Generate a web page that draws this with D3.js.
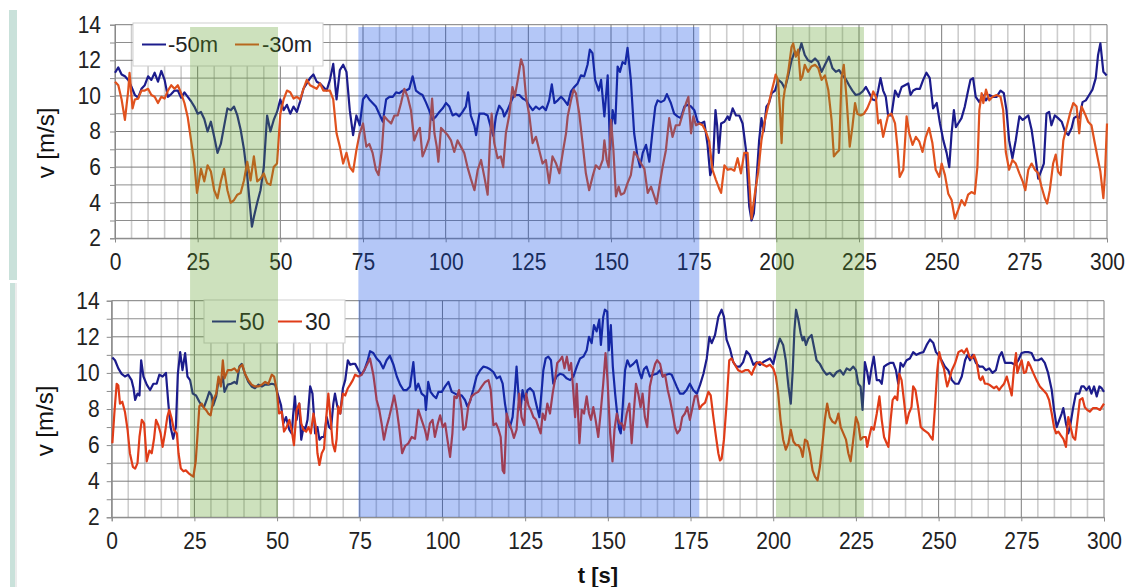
<!DOCTYPE html>
<html>
<head>
<meta charset="utf-8">
<script src="https://cdn.jsdelivr.net/npm/d3@7"></script>
<style>
  body { margin: 0; background: #fff; }
  svg { display: block; font-family: "Liberation Sans", Arial, sans-serif; }
</style>
</head>
<body>
<div id="chart"></div>
<script>
// data: [t (s), v (m/s)]
const top50 = [[0,11.3],[1,11.6],[2,11.2],[3,11.1],[4,10.9],[5,10.5],[6,10.05],[7,9.9],[8,10.4],[9,10.6],[10,11.1],[11,10.9],[12,11.3],[13,10.8],[14,11.4],[15,10.9],[16,9.95],[17,10.1],[18,10.3],[19,10.3],[20,9.9],[21,10.2],[22,9.95],[23,9.7],[24,9.4],[25,9.0],[26,9.1],[27,8.7],[28,8.0],[29,8.55],[30,7.7],[31,6.8],[32,7.3],[33,8.3],[34,9.3],[35,9.2],[36,9.4],[37,8.9],[38,8.1],[39,7.0],[40,5.5],[41.4,2.65],[42,3.2],[43,4.0],[44,4.7],[45,6.0],[46,8.9],[47,8.0],[48,8.65],[49,9.1],[50,9.8],[51,9.2],[52,9.5],[53,9.0],[54,9.4],[55,9.1],[56,9.7],[57,10.4],[58,10.7],[59,11.0],[60,11.2],[61,10.8],[62,10.7],[63,10.5],[64,10.3],[65,10.9],[66,11.8],[67,9.8],[68,11.45],[69,11.75],[70,11.35],[71,9.2],[72,7.8],[73,8.9],[74,8.35],[75,9.8],[76,10.05],
  [76.9,9.8],[77.9,9.6],[78.9,9.4],[79.9,9.0],[81,8.55],[82,9.8],[83,9.95],[84,9.95],[85,10.2],[86,10.15],[87,10.3],[88,10.3],[89,10.4],[90,11.1],[91,10.3],[92,10.15],[93,10.05],[94,9.65],[95,9.2],[96,8.65],[97.1,8.85],[98.1,9.1],[99.1,9.3],[100.1,9.6],[101.1,9.4],[102.1,8.9],[103.1,9.0],[104.1,8.85],[105.1,9.1],[106.1,9.4],[106.8,10.2],[107.6,8.9],[108.7,8.3],[109.2,7.8],[110.2,9.0],[111.7,9.0],[112.7,8.9],[113.7,8.2],[114.4,7.75],[115.2,8.85],[116.2,9.45],[117.2,9.2],[117.7,8.85],[118.7,9.2],[119.7,9.65],[120.7,10.05],[122.3,10.05],[123.3,9.85],[124.3,9.75],[125.3,9.45],[126.3,9.2],[127.3,9.4],[128.3,9.25],[129.3,9.4],[130.3,9.2],[131.3,9.75],[132.1,10.65],[132.9,9.6],[133.9,9.75],[134.9,9.95],[135.9,9.75],[136.9,9.5],[137.9,10.25],[138.9,10.5],[139.9,10.7],[140.9,11.15],[141.9,11.1],[142.9,11.75],[143.6,12.6],[144.4,12.4],[145.2,10.9],[146.3,10.3],[147,10.9],[148,8.85],[149,11.15],[149.7,7.0],[150.5,9.2],[151.3,8.45],[152,11.65],[152.7,11.35],[153.5,11.9],[154.3,11.8],[155,12.7],[156,10.9],[157,7.9],[158,6.6],[158.8,6.0],[159.6,6.8],[160.6,7.25],[161.6,6.3],[162.6,8.1],[163.4,9.4],[164.1,9.75],[165.1,9.65],[166.1,9.75],[166.9,10.1],[168.1,9.6],[169.1,9.0],[170.1,8.85],[171.1,8.75],[172.2,9.4],[173.2,9.5],[174.2,9.4],[175.2,9.2],[176.2,8.55],[177.2,8.45],[178.2,8.55],[179.2,7.25],[180,5.55],[180.8,6.1],[181.6,9.2],[182.1,8.35],[182.6,6.8],[183.3,8.45],[184.3,8.55],[185.3,8.85],[185.8,8.65],[186.8,9.3],[187.8,8.9],[188.8,8.9],[189.8,8.45],[190.8,7.0],[191.8,3.8],
  [192.5,3.0],[193.2,3.4],[194,5.3],[194.8,7.5],[195.5,8.75],[196.2,8.0],[197,9.4],[197.8,9.6],[198.6,10.15],[199.6,10.3],[200.6,10.9],[201.6,10.75],[202.6,10.4],[203.6,11.15],[204.6,12.0],[205.6,12.5],[206.6,12.3],[207.6,12.95],[208.6,12.3],[209.6,12.0],[210.6,11.9],[211.7,12.1],[212.7,11.9],[213.7,11.35],[214.7,11.75],[215.9,12.2],[217,11.55],[218,11.35],[219,11.45],[220,11.15],[221,10.95],[222,10.6],[223,10.3],[224,10.05],[225.1,10.1],[226.1,10.25],[227.1,10.5],[228.1,10.15],[229.1,9.8],[230.1,9.75],[230.8,10.3],[231.5,11.0],[232.3,10.3],[233.1,9.95],[233.8,8.9],[234.8,8.9],[235.9,10.3],[236.9,9.95],[237.9,10.5],[238.9,10.6],[239.9,10.7],[240.6,10.05],[241.4,10.3],[242.4,10.4],[243.4,10.4],[244.4,10.9],[245.4,11.3],[246.4,11.0],[247.4,9.3],[248.5,9.6],[249.5,8.45],[250.5,7.5],[251.5,6.8],[252.3,6.0],[253,7.9],[253.7,9.2],[254.3,8.25],[255,8.45],[256,8.75],[257,9.4],[258,10.3],[258.7,10.9],[259.5,11.0],[260.3,9.95],[261.4,9.65],[262.4,10.05],[263.4,9.75],[264.4,10.05],[265.4,9.95],[266.6,9.95],[267.8,10.3],[268.8,10.15],[269.6,9.2],[270.4,7.5],[271.4,6.5],[272.4,7.5],[273.5,8.85],[274.5,8.65],[275.2,8.75],[276.2,8.9],[277.2,8.1],[278.2,6.8],[279.2,5.35],[280.2,5.85],[280.9,6.2],[281.7,9.0],[282.5,9.1],[283.2,8.35],[284.2,8.9],[285.2,8.75],[286.3,8.55],[287.3,8.0],[288.3,7.8],[289.3,8.2],[290,8.75],[290.8,8.85],[291.6,8.75],[292.6,9.65],[293.6,9.75],[294.6,10.05],[295.6,10.35],[296.6,11.0],[297.3,12.3],[298,12.95],[298.9,11.35],[299.9,11.15]];

const top30 = [[0,10.8],[1,10.6],[2,9.8],[3,8.65],[4,10.3],[4.4,11.3],[5.3,9.3],[6,9.8],[7,9.85],[8,10.3],[9,10.3],[10,10.4],[11,10.05],[12,9.95],[13,9.6],[14,9.95],[15,9.85],[16,10.3],[17,10.6],[18,10.4],[19,10.6],[20,10.15],[21,9.6],[22,8.8],[23,7.5],[24,6.2],[24.8,4.55],[26,5.9],[27,5.2],[28,6.1],[29,5.75],[30,4.7],[31,4.25],[32,5.2],[33,5.9],[34,4.7],[35,4.0],[36,4.15],[37,4.45],[38,4.55],[39,5.25],[40,6.3],[41,5.25],[42,6.6],[43,5.2],[44,5.35],[45,5.65],[46,5.1],[47,5.0],[48,6.0],[49,6.2],[50,9.0],[51,9.8],[52,10.3],[53,10.2],[54,9.85],[55,9.95],[56,9.8],[57,10.4],[58,10.9],[59,10.6],[60,10.5],[61,10.4],[62,10.7],[63,10.3],[64,10.3],[65,10.3],[66,9.8],[67,7.9],[68,7.15],[69,6.2],[70,6.8],[71,6.0],[72,5.75],[73,6.95],[74,7.9],[75,8.45],[76,7.15],
  [76.9,7.3],[77.9,6.8],[78.9,5.85],[79.7,5.55],[80.7,6.95],[81.4,8.85],[82.4,8.65],[83.5,8.45],[84.5,8.9],[85.5,8.9],[86.5,9.6],[87.5,10.4],[88.5,9.95],[89.5,9.2],[90.5,7.5],[91.5,8.0],[92.2,8.2],[93,6.6],[94,7.05],[95,7.6],[95.9,9.85],[96.6,7.9],[97.3,7.15],[97.8,6.3],[98.6,8.2],[99.6,8.0],[100.6,7.8],[101.6,7.5],[102.6,6.85],[103.6,7.5],[104.6,7.15],[105.6,6.8],[106.6,6.0],[107.6,5.35],[108.7,4.7],[109.7,5.85],[110.7,6.4],[111.7,5.45],[112.7,4.45],[113.4,7.5],[113.9,9.0],[114.7,7.35],[115.7,6.5],[116.7,6.6],[117.4,6.0],[118.2,7.9],[119.2,8.9],[120.2,10.5],[120.9,9.95],[121.8,10.9],[122.8,12.05],[123.5,11.65],[124.3,9.95],[125.3,8.9],[126.3,7.35],[127.3,7.7],[128.3,6.95],[129.3,6.2],[130.3,6.4],[131.3,5.1],[132.3,6.6],[133.4,6.2],[134.4,5.65],[135.4,6.8],[136.4,7.9],[136.9,8.85],[137.9,9.75],[138.7,10.35],[139.4,10.15],[140.4,9.0],[141.4,7.35],[142.4,5.65],[143.4,4.7],[144.4,5.45],[145.4,6.1],[146.5,5.9],[147.5,6.4],[148,7.5],[148.7,6.4],[149.3,6.0],[150,8.65],[150.7,7.05],[151.5,4.35],[152.3,4.9],[153,4.45],[154,4.55],[155,5.1],[156,5.55],[157,6.85],[158,6.6],[159.1,6.2],[160.1,5.9],[161.1,4.55],[162.1,4.9],[163.1,4.35],[163.8,3.95],[164.6,4.9],[165.6,6.0],[166.6,6.95],[167.6,8.75],[168.6,7.7],[169.6,8.35],[170.7,8.35],[171.7,9.0],[172.7,9.6],[173.4,9.95],[174.2,7.9],[174.9,8.85],[175.7,8.35],[176.7,8.45],[177.7,8.35],[178.7,8.0],[179.7,7.45],[180.7,5.85],[181.7,5.3],[182.7,4.8],[183.3,4.55],[184.3,6.1],[185.3,5.85],[186.3,5.9],[187.3,5.8],[188.3,6.5],[189.3,5.65],[190.3,6.8],[191.3,6.8],
  [192.5,3.1],[193.5,4.5],[194.5,5.7],[195.5,7.5],[196.5,8.6],[197.5,9.4],[198.5,10.2],[199.3,10.8],[199.8,11.2],[200.5,10.9],[201.1,9.2],[201.6,7.35],[202.1,9.75],[202.6,10.4],[203.6,11.35],[204.6,12.75],[205.1,12.95],[205.9,12.2],[206.6,12.6],[207.3,10.9],[207.9,11.1],[208.6,11.75],[209.6,11.35],[210.6,11.65],[211.7,11.75],[212.7,11.55],[213.7,10.9],[214.7,11.15],[215.7,10.35],[216.7,8.65],[217.4,6.6],[218.2,6.8],[219,6.95],[219.7,11.0],[220.4,11.75],[221.2,9.95],[222.2,7.15],[223,8.25],[223.8,9.6],[224.5,9.0],[225.5,8.9],[226.5,9.0],[227.5,9.3],[228.5,9.75],[229.3,10.25],[230.1,9.95],[230.8,8.45],[231.5,8.65],[232.3,7.7],[233.1,8.35],[233.8,8.9],[234.8,9.0],[235.9,8.45],[236.6,7.15],[237.3,5.45],[238.4,5.85],[239.4,8.85],[240.2,7.9],[241.2,7.25],[242.2,7.7],[243.2,7.45],[244.2,6.85],[245.2,7.7],[246.2,8.2],[247.2,7.35],[248.2,5.85],[249.3,5.45],[250,6.2],[251,5.55],[252,4.5],[253,4.15],[254,3.1],[255,3.6],[256,4.15],[257,3.85],[258,4.45],[259,4.6],[260,4.5],[260.8,6.0],[261.4,9.2],[262.1,10.15],[262.6,9.6],[263.4,10.35],[264.4,9.75],[265.4,9.95],[266.6,10.05],[267.8,9.95],[268.6,9.2],[269.4,6.85],[270.4,5.85],[271.4,6.4],[272.4,6.2],[273.5,5.65],[274.5,5.2],[275.3,4.7],[276.2,5.85],[277.2,6.2],[278.2,5.85],[279.2,5.65],[280.2,4.9],[281.2,4.25],[281.9,3.95],[282.7,4.7],[283.7,6.2],[284.5,6.7],[285.2,5.75],[286,5.55],[286.8,7.5],[287.8,8.25],[288.8,9.0],[289.8,9.6],[290.8,9.4],[291.6,7.9],[292.3,9.4],[293.3,9.0],[294.3,8.55],[295.3,8.35],[296.3,7.35],[297.3,6.4],[298,5.75],[298.9,4.25],[299.4,5.65],[300,8.45]];

const bot50 = [[0.2,10.85],[1,10.7],[2,10.25],[3,9.95],[4,9.8],[5,9.9],[6,9.6],[6.6,9.15],[7.1,8.5],[7.8,8.85],[8.4,8.75],[8.9,10.7],[9.6,9.8],[10.6,9.35],[11.6,9.05],[12.6,9.4],[13.6,9.4],[14.4,9.9],[15.4,9.8],[16.4,10.0],[17.1,8.35],[17.8,7.0],[18.6,6.35],[19.4,7.0],[20,9.95],[20.7,11.15],[21.4,10.15],[22.2,11.1],[22.9,9.8],[23.7,9.6],[24.5,8.85],[25.5,8.75],[26.5,8.4],[27.2,8.2],[27.9,8.1],[28.7,8.5],[29.5,8.95],[30.2,8.75],[30.7,8.2],[31.6,8.7],[32.3,9.6],[33,9.4],[33.6,9.8],[34.1,8.95],[35.1,9.35],[36.1,9.4],[37.1,9.5],[37.8,9.4],[38.6,10.35],[39.3,10.5],[40.3,9.95],[41.3,9.5],[42.3,9.25],[43.3,9.15],[44.4,9.35],[45.4,9.25],[46.4,9.35],[47.4,9.35],[48.4,9.4],[49.4,9.35],[50.4,8.7],[51.2,8.2],[51.9,7.2],[52.7,7.55],[53.7,6.85],[54.4,6.65],[54.9,7.75],[55.4,8.7],[55.9,7.4],[56.7,8.3],[57.3,6.3],[58,7.0],[58.5,6.85],[59.2,7.4],[60,9.25],[60.7,8.85],[61.5,6.65],[62.2,7.0],[62.8,6.3],[63.5,6.45],[64.2,6.45],[65,7.55],[65.7,7.0],[66.3,6.9],[67,8.3],[67.5,8.85],[68.2,8.15],[69.1,7.75],[69.9,9.15],[70.6,9.6],[71.4,10.7],[72.1,10.45],[72.9,10.5],[73.6,10.5],[74.6,10.15],[75.4,9.9],[76.4,10.15],[77.4,10.7],
  [78.1,11.2],[79.1,11.1],[80.1,10.8],[81.1,10.6],[82.1,10.25],[83.1,10.7],[84.1,10.95],[85.2,10.45],[86.2,9.8],[87.2,9.35],[88.2,9.05],[89.2,9.05],[90.2,9.25],[91.2,10.6],[91.9,9.05],[92.7,9.4],[93.7,8.85],[94.7,8.7],[95,7.95],[95.7,9.5],[96.4,8.95],[97.2,8.75],[98.1,8.6],[98.8,8.95],[99.8,8.95],[100.8,9.25],[101.8,9.5],[102.8,8.95],[103.8,8.85],[104.8,8.75],[105.8,8.75],[106.8,8.5],[107.5,8.15],[108.3,8.4],[109.3,9.05],[110.3,9.8],[111.4,10.15],[112.4,10.35],[113.4,10.3],[114.4,10.2],[115.4,10.05],[116.4,9.7],[117.4,9.8],[118.2,9.4],[118.9,8.3],[119.6,7.5],[120.4,7.0],[121.2,7.55],[121.9,9.05],[122.4,10.35],[123.1,8.5],[123.6,7.95],[124.2,9.05],[124.9,8.5],[125.7,9.05],[126.5,9.15],[127.5,8.95],[128.5,8.15],[129.3,7.55],[130,9.05],[130.5,10.15],[131.2,10.8],[132,10.9],[132.8,10.7],[133.5,9.4],[134.5,9.8],[135.5,9.95],[136.5,9.9],[137.5,9.7],[138.6,9.6],[139.6,9.8],[140.6,10.35],[141.6,10.8],[142.6,10.9],[143.6,11.25],[144.3,12.0],[145.1,11.65],[145.8,12.65],[146.6,12.3],[147.4,12.95],[147.9,11.55],[148.6,13.1],[149.1,13.5],[149.8,13.4],[150.3,11.25],[150.9,12.65],[151.5,10.35],[152.2,8.85],[152.7,7.95],[153.4,6.9],[153.9,6.65],[154.5,8.15],[155.2,10.15],[155.9,10.7],[156.7,10.35],[157.7,10.5],[158.7,10.7],[159.5,10.05],[160.2,9.7],[160.9,10.2],[161.7,10.35],[162.7,9.8],[163.7,9.9],[164.8,9.95],[165.8,10.15],[166.6,9.8],[167.6,9.9],[168.6,9.95],[169.3,9.9],[170,9.6],[170.8,9.25],[171.8,8.85],[172.8,8.85],[173.8,9.05],[174.8,9.4],[175.8,9.05],[176.9,8.85],[177.9,9.35],[178.9,9.95],[179.9,10.8],[180.7,12.0],[181.4,11.65],[182.4,12.1],[183.4,13.1],[184.4,13.5],[185.1,13.1],[185.9,11.85],[186.9,11.35],[187.9,10.6],[188.9,10.35],[189.9,10.35],[190.9,10.6],[191.9,11.2],[192.9,11.0],
  [194,10.45],[195,10.6],[196,10.45],[197,10.6],[198,10.7],[199,10.8],[200,10.5],[201,11.25],[202,11.9],[203,11.55],[203.8,10.7],[204.6,9.25],[205.3,8.3],[205.9,10.15],[206.4,12.35],[206.9,13.5],[207.6,12.95],[208.3,12.2],[208.9,11.8],[209.3,12.0],[209.9,11.55],[210.6,11.9],[211.6,12.1],[212.3,11.45],[213.1,10.7],[214.1,10.5],[215.1,10.15],[216.1,9.9],[217.1,10.0],[218.2,9.8],[219.2,10.05],[220.2,10.15],[221.2,9.9],[222.2,10.25],[223.2,10.15],[224.2,10.35],[225,10.15],[225.7,9.4],[226.4,9.25],[227,7.95],[227.7,10.6],[228.4,10.05],[229,9.4],[229.7,10.25],[230.4,10.9],[231.3,9.6],[232.1,9.6],[232.8,9.4],[233.5,10.35],[234.3,10.45],[235.3,10.55],[236.3,10.55],[237.1,10.15],[237.8,9.4],[238.5,10.55],[239.3,10.35],[240.3,10.7],[241.3,10.8],[242.3,11.15],[243.3,11.0],[244.4,11.1],[245.4,11.15],[246.4,11.55],[247.4,11.85],[248.4,11.65],[249.2,11.15],[249.9,11.0],[250.9,10.7],[251.9,10.35],[252.9,10.15],[254,9.6],[255,9.4],[256,9.4],[257,9.8],[258,10.7],[258.7,11.0],[259.5,10.7],[260.3,11.0],[261.3,10.55],[262.3,10.35],[263.3,10.35],[264.3,10.15],[265.3,10.25],[266.3,10.0],[267.3,10.15],[268.3,10.9],[269.1,11.15],[270.1,10.55],[271.1,10.55],[272.1,10.55],[273.1,10.45],[274.1,10.7],[275.1,11.1],[276.1,11.15],[277.1,11.15],[278.1,11.1],[279.1,10.7],[280.1,10.7],[281.1,10.8],[282.1,10.55],[283.1,10.0],[284.2,9.05],[284.9,7.95],[285.7,7.0],[286.5,7.4],[287.2,7.75],[287.7,8.05],[288.5,7.2],[289.2,6.65],[289.9,7.2],[290.7,8.1],[291.5,8.85],[292.5,8.85],[293.2,9.25],[293.9,9.25],[294.7,9.05],[295.5,9.25],[296.2,8.85],[297,9.25],[297.8,8.7],[298.6,9.25],[299.3,9.15],[300,8.95]];

const bot30 = [[0.2,6.1],[0.8,7.75],[1.5,9.4],[2,9.3],[2.5,8.3],[3.2,8.4],[4,7.85],[4.8,6.85],[5.5,5.55],[6.4,4.8],[7.1,4.7],[7.8,5.0],[8.4,6.45],[9.1,7.4],[9.8,7.2],[10.6,5.1],[11.4,5.7],[12.1,5.55],[12.8,6.35],[13.4,7.4],[14.1,7.1],[14.8,6.65],[15.4,5.9],[16.1,6.65],[16.8,7.55],[17.4,7.95],[18.1,7.5],[18.8,6.85],[19.7,6.65],[20.2,5.55],[20.9,4.7],[21.7,4.55],[22.4,4.6],[23.2,4.45],[23.9,4.35],[24.7,4.25],[25.4,5.1],[25.9,6.45],[26.5,8.15],[27.2,8.3],[27.9,8.05],[28.5,7.95],[29.2,7.75],[29.9,7.65],[30.7,8.5],[31.6,8.85],[32.3,9.8],[33,9.25],[33.6,10.7],[34.1,9.7],[35.1,10.15],[36.1,10.15],[37.1,10.25],[38,10.05],[38.8,10.35],[39.5,10.45],[40.3,9.95],[41.3,9.6],[42.3,9.35],[43.3,9.25],[44.4,9.25],[45.4,9.35],[46.4,9.5],[47.4,9.4],[48.4,9.9],[49.1,9.8],[49.9,9.05],[50.6,7.75],[51.4,7.85],[52.1,6.75],[52.9,7.0],[53.7,7.4],[54.4,6.85],[55.1,6.0],[55.9,7.95],[56.7,8.3],[57.3,7.2],[58,6.85],[58.8,6.75],[59.5,7.0],[60.2,6.65],[61,7.75],[61.7,7.0],[62.2,5.55],[62.8,4.9],[63.5,5.55],[64.2,5.8],[64.8,7.4],[65.5,8.85],[66.2,7.4],[66.8,6.1],[67.5,5.65],[68,6.35],[68.5,8.15],[69.1,7.75],[69.9,8.85],[70.6,8.75],[71.4,9.15],[72.1,9.35],[72.9,9.6],[73.6,9.9],[74.6,9.8],[75.6,9.9],[76.6,10.25],[77.6,10.6],
  [78.1,10.8],[79.1,9.9],[80.1,8.5],[80.9,7.95],[81.6,7.2],[82.3,6.3],[83.1,7.0],[83.9,7.55],[84.6,8.1],[85.4,8.75],[86.2,7.95],[87,6.85],[87.8,5.55],[88.7,5.95],[89.7,6.1],[90.7,6.45],[91.7,6.35],[92.7,7.95],[93.7,7.4],[94.7,6.85],[95.4,6.3],[96.2,7.2],[97,7.4],[97.7,6.45],[98.6,7.2],[99.3,7.65],[100.1,7.0],[100.8,7.2],[101.5,6.3],[102.3,5.35],[103,6.65],[103.6,8.7],[104.3,8.6],[105,9.05],[105.8,7.95],[106.3,6.85],[107,7.0],[107.8,8.15],[108.8,8.7],[109.8,8.85],[110.8,8.95],[111.9,9.25],[112.9,9.5],[113.9,9.6],[114.6,9.05],[115.4,7.1],[116.2,7.2],[116.9,6.9],[117.6,6.45],[118.2,4.6],[118.7,4.45],[119.4,7.75],[120.2,7.2],[120.9,6.85],[121.6,6.4],[122.4,6.85],[123.2,8.85],[123.9,7.55],[124.7,7.1],[125.3,8.85],[126,8.2],[126.7,7.95],[127.5,7.55],[128.3,7.4],[129,7.0],[129.7,6.65],[130.3,7.75],[131,7.4],[131.7,8.3],[132.5,7.75],[133.3,8.85],[134,9.6],[134.7,10.55],[135.5,10.7],[136.2,10.9],[136.9,10.25],[137.6,10.9],[138.3,10.15],[138.9,10.55],[139.4,9.4],[140.1,7.55],[140.6,9.4],[141.4,6.1],[142.1,7.95],[142.8,7.75],[143.6,8.7],[144.3,7.75],[144.9,7.4],[145.6,8.1],[146.3,7.4],[147.1,6.45],[147.8,7.75],[148.6,9.4],[149.3,11.1],[149.9,9.6],[150.7,6.65],[151.4,5.1],[152,6.85],[152.7,7.75],[153.5,7.2],[154.2,7.2],[154.9,6.85],[155.7,7.75],[156.5,8.3],[157.2,6.1],[157.9,7.95],[158.5,9.4],[159.2,8.85],[159.9,8.1],[160.5,8.85],[161.2,7.55],[161.9,7.0],[162.7,9.25],[163.5,9.95],[164.3,10.5],[164.9,10.7],[165.8,10.5],[166.6,9.8],[167.3,9.9],[168.1,9.05],[168.8,8.5],[169.6,7.75],[170.3,7.0],[171,6.65],[171.8,6.85],[172.5,7.55],[173.3,7.75],[174,8.1],[174.8,7.4],[175.6,8.1],[176.3,8.7],[177,8.75],[177.7,8.0],[178.4,8.2],[179.4,8.35],[180.4,8.95],[181.1,8.75],[181.9,7.55],[182.7,6.45],[183.4,5.55],[183.9,5.15],[184.4,5.25],[185.1,6.3],[185.9,8.3],[186.7,10.7],[187.4,10.8],[188.4,10.45],[189.4,10.15],[190.5,10.05],[191.5,10.15],[192.5,10.15],
  [193.5,9.9],[194,10.15],[195,10.55],[196,10.6],[197,10.45],[198,10.35],[199,10.45],[200,10.25],[200.8,9.8],[201.5,8.85],[202.2,7.4],[203,6.3],[203.8,5.75],[204.6,6.1],[205.3,6.85],[206.1,6.2],[206.9,6.0],[207.6,6.0],[208.3,5.8],[208.9,5.35],[209.6,6.3],[210.3,6.2],[211.1,5.55],[211.9,4.6],[212.6,4.25],[213.4,4.05],[214.1,4.8],[214.9,6.1],[215.6,7.4],[216.3,8.3],[217.1,7.55],[217.9,7.3],[218.7,7.2],[219.2,7.4],[219.7,7.75],[220.4,7.0],[221.2,6.65],[222,6.3],[222.7,5.55],[223.4,5.1],[224.2,6.3],[225,7.55],[225.7,7.2],[226.4,6.3],[227.2,6.45],[228,6.45],[228.4,5.9],[229,6.45],[229.7,7.0],[230.4,6.85],[231.3,7.75],[232.1,8.7],[232.8,7.4],[233.5,6.45],[234.3,6.1],[234.8,5.9],[235.5,7.4],[236.1,8.5],[236.8,8.7],[237.5,8.5],[238.1,9.95],[238.8,9.6],[239.5,8.5],[240.3,7.2],[241,7.75],[241.8,8.1],[242.3,9.25],[243,9.05],[243.8,8.1],[244.6,7.0],[245.4,6.85],[246.2,6.75],[246.9,6.65],[247.6,6.45],[248.2,6.3],[248.9,8.1],[249.6,10.15],[250.2,11.15],[250.9,10.6],[251.6,10.25],[252.2,9.6],[252.6,9.25],[253.2,9.6],[254,10.15],[255,10.55],[256,11.15],[257,11.25],[257.7,11.1],[258.5,11.35],[259.3,10.9],[260,10.8],[260.7,11.0],[261.5,10.6],[262.3,9.7],[262.7,9.6],[263.3,9.8],[264,9.4],[264.7,9.4],[265.3,9.35],[266,9.25],[266.7,9.15],[267.5,9.25],[268.3,9.05],[269.1,9.25],[269.8,9.4],[270.6,9.8],[271.4,9.25],[272.1,8.75],[272.8,10.25],[273.4,11.1],[273.8,10.0],[274.4,10.35],[275.1,10.7],[275.8,10.0],[276.4,10.05],[277.1,10.6],[277.8,10.35],[278.6,10.0],[279.6,9.6],[280.6,9.25],[281.6,9.05],[282.6,8.85],[283.4,8.5],[284.2,7.75],[284.9,7.0],[285.5,6.65],[286.2,6.75],[286.9,6.55],[287.7,6.35],[288.5,5.9],[289.2,7.55],[289.9,7.0],[290.6,6.45],[291.3,6.3],[292,7.4],[292.7,8.5],[293.5,8.6],[294.2,8.1],[294.9,7.95],[295.7,7.85],[296.7,8.05],[297.7,8.05],[298.8,7.95],[300,8.3]];

const xTicks = d3.range(0, 301, 25);
const xGrid = d3.range(0, 301, 5);
const yTicks = d3.range(2, 15, 1);
// highlighted time windows (s, on the upper chart's axis)
const bands = [[22.7, 49.3, "green"], [73.6, 176.7, "blue"], [199.9, 226.5, "green"]];
const bandColor = { green: "rgb(88,155,38)", blue: "rgb(8,70,230)" };

const width = 1131, height = 587;
const svg = d3.select("#chart").append("svg").attr("width", width).attr("height", height);

// side bars
svg.append("rect").attr("x", 9).attr("y", 10).attr("width", 8).attr("height", 270).attr("fill", "#c9e1da");
svg.append("rect").attr("x", 10).attr("y", 283).attr("width", 5).attr("height", 304).attr("fill", "#c9e1da");
svg.append("rect").attr("x", 15).attr("y", 283).attr("width", 2).attr("height", 304).attr("fill", "#ececec");

const panels = [
  { data: [top50, top30], names: ["-50m", "-30m"], colors: ["#1c1c8c", "#e0521e"],
    xr: [115, 1107], yr: [238.3, 24.7], legend: { x: 133, y: 23, w: 190, h: 43, fs: 22, items: [[142, 168], [235, 262]] },
    title: [46, 143] },
  { data: [bot50, bot30], names: ["50", "30"], colors: ["#1c1c8c", "#e03c18"],
    xr: [111.7, 1104], yr: [517.3, 300.7], legend: { x: 204, y: 300, w: 141, h: 43, fs: 23, items: [[212, 239], [278, 305]] },
    title: [45, 421] }
];

panels.forEach(p => drawPanel(p));

// highlight bands drawn over both charts
const xb = d3.scaleLinear().domain([0, 300]).range(panels[0].xr);
svg.append("g").selectAll("rect").data(bands).join("rect")
  .attr("x", d => xb(d[0]))
  .attr("width", d => xb(d[1]) - xb(d[0]))
  .attr("y", 27).attr("height", 517 - 27)
  .attr("fill", d => bandColor[d[2]])
  .attr("fill-opacity", 0.3);

svg.append("text").attr("x", 598).attr("y", 583)
  .attr("text-anchor", "middle").attr("font-size", 22).attr("font-weight", "bold")
  .attr("fill", "#111").text("t [s]");

function drawPanel(p) {
  const x = d3.scaleLinear().domain([0, 300]).range(p.xr);
  const y = d3.scaleLinear().domain([2, 14]).range(p.yr);
  const g = svg.append("g");

  // grid
  g.append("g").selectAll("line").data(xGrid).join("line")
    .attr("x1", d => x(d)).attr("x2", d => x(d))
    .attr("y1", y(14)).attr("y2", y(2))
    .attr("stroke", d => d % 25 === 0 ? "#7c7c7c" : "#cdcdcd")
    .attr("stroke-width", d => d % 25 === 0 ? 1 : 1.6);
  g.append("g").selectAll("line").data(yTicks).join("line")
    .attr("x1", x(0)).attr("x2", x(300))
    .attr("y1", d => y(d)).attr("y2", d => y(d))
    .attr("stroke", d => d % 2 === 0 ? "#7c7c7c" : "#8e8e8e")
    .attr("stroke-width", 1);

  // axes (labels slightly stretched vertically like the original)
  const ax = g.append("g").attr("transform", `translate(0,${y(2)})`)
    .call(d3.axisBottom(x).tickValues(xTicks).tickSize(4).tickPadding(10));
  const ay = g.append("g").attr("transform", `translate(${x(0)},0)`)
    .call(d3.axisLeft(y).tickValues(yTicks).tickSize(5).tickPadding(p.xr[0] > 113 ? 9 : 7)
      .tickFormat(d => d % 2 === 0 ? d : ""));
  [ax, ay].forEach(a => {
    a.selectAll("path, line").attr("stroke", "#8a8a8a");
    a.selectAll("text").attr("font-size", 21).attr("fill", "#222")
      .attr("font-family", "Liberation Sans, Arial, sans-serif")
      .attr("transform", "scale(1,1.1)");
  });

  // series (second series drawn on top)
  const line = d3.line().x(d => x(d[0])).y(d => y(d[1]));
  p.data.forEach((s, i) => {
    g.append("path").datum(s).attr("d", line)
      .attr("fill", "none").attr("stroke", p.colors[i])
      .attr("stroke-width", 2.2).attr("stroke-linejoin", "round");
  });

  // legend
  const L = p.legend;
  const lg = g.append("g");
  lg.append("rect").attr("x", L.x).attr("y", L.y).attr("width", L.w).attr("height", L.h)
    .attr("fill", "#fff").attr("stroke", "#cfcfcf");
  L.items.forEach((it, i) => {
    const cy = L.y + L.h / 2;
    lg.append("line").attr("x1", it[0]).attr("x2", it[0] + 24).attr("y1", cy).attr("y2", cy)
      .attr("stroke", p.colors[i]).attr("stroke-width", 2);
    lg.append("text").attr("x", it[1]).attr("y", cy).attr("dy", "0.35em")
      .attr("font-size", L.fs).attr("fill", "#222").text(p.names[i]);
  });

  // y title
  svg.append("text")
    .attr("transform", `translate(${p.title[0]},${p.title[1]}) rotate(-90)`)
    .attr("text-anchor", "middle").attr("dy", "0.35em")
    .attr("font-size", 24).attr("fill", "#111").text("v [m/s]");
}
</script>
</body>
</html>
